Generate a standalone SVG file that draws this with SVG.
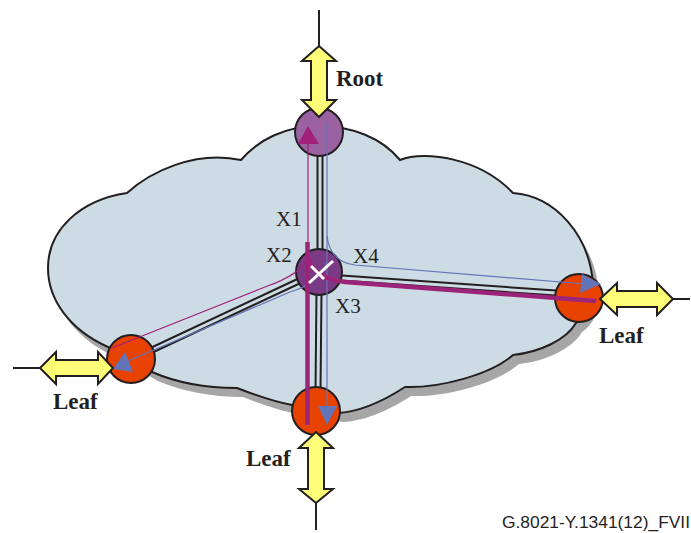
<svg xmlns="http://www.w3.org/2000/svg" width="691" height="533" viewBox="0 0 691 533">
<defs>
<style>
.cloud{stroke:#231f20;stroke-width:2;stroke-linejoin:miter}
.linkO{stroke:#231f20;stroke-width:7;fill:none}
.linkI{stroke:#cddbe4;stroke-width:3;fill:none}
.node{stroke:#231f20;stroke-width:2}
.leaf{fill:#e84200}
.arrow{fill:#fdfd78;stroke:#231f20;stroke-width:2;stroke-linejoin:miter}
.wire{stroke:#231f20;stroke-width:2;fill:none}
.blue{stroke:#6474b8;stroke-width:1.2;fill:none}
.mag{stroke:#a0207a;stroke-width:1.2;fill:none}
.magT{stroke:#9c2478;stroke-width:4.5;fill:none}
.tri{fill:#6474b8}
.lbl{font-family:"Liberation Serif",serif;font-weight:bold;font-size:23px;fill:#231f20}
.xl{font-family:"Liberation Serif",serif;font-size:21px;fill:#231f20}
</style>
<path id="cloudPath" d="M 241,160 C 258,140 285,126 319,126 C 352,126 382,138 400,160 C 425,150 480,158 513,193 C 555,196 590,235 593,285 C 594,300 588,315 576,323 C 566,340 540,352 513,355 C 490,375 440,388 405,387 C 385,400 360,412 337,413 L 292,405 C 275,402 255,395 237,388 C 205,388 175,382 152,372 L 108,347 C 70,330 48,300 48,268 C 48,230 80,200 127,193 C 150,172 195,150 241,160 Z"/>
</defs>
<g id="cloud">
<use href="#cloudPath" transform="translate(6,9)" fill="#a6a6a6"/>
<use href="#cloudPath" class="cloud" fill="#cddbe4"/>
</g>
<g id="connectors">
<line class="linkO" x1="320" y1="156" x2="320" y2="250"/>
<line class="linkI" x1="320" y1="156" x2="320" y2="250"/>
<line class="linkO" x1="299" y1="281" x2="152" y2="350"/>
<line class="linkI" x1="299" y1="281" x2="152" y2="350"/>
<line class="linkO" x1="319" y1="292" x2="318" y2="390"/>
<line class="linkI" x1="319" y1="292" x2="318" y2="390"/>
<line class="linkO" x1="342" y1="278" x2="556" y2="293"/>
<line class="linkI" x1="342" y1="278" x2="556" y2="293"/>
<line class="wire" x1="319" y1="10" x2="319" y2="46"/>
<line class="wire" x1="316" y1="503" x2="316" y2="530"/>
<line class="wire" x1="673" y1="299" x2="690" y2="299"/>
<line class="wire" x1="13" y1="368" x2="40" y2="368"/>
</g>
<g id="root">
<circle class="node" cx="319" cy="132" r="24" fill="#9a62a0"/>
</g>
<g id="center">
<circle class="node" cx="319" cy="272" r="23" fill="#7b3a86"/>
</g>
<g id="leaf-right">
<circle class="node leaf" cx="579" cy="298" r="24"/>
</g>
<g id="leaf-left">
<circle class="node leaf" cx="131" cy="359" r="24"/>
</g>
<g id="leaf-bottom">
<circle class="node leaf" cx="316" cy="411" r="24"/>
</g>
<g id="paths">
<line class="mag" x1="308" y1="140" x2="308" y2="244"/>
<path class="mag" d="M 307,258 Q 302,274 265,287 L 112,348"/>
<line class="blue" x1="327" y1="122" x2="327" y2="410"/>
<path class="blue" d="M 327,236 Q 330,262 355,265 L 585,284"/>
<path class="blue" d="M 327,262 Q 318,284 290,292 L 128,361"/>
<line class="magT" x1="307.5" y1="242" x2="307.5" y2="425"/>
<path class="magT" d="M 309,258 Q 312,278 345,282 L 596,301"/>
<polygon class="tri" points="308,126 298,144 319,144" fill="#a0207a" style="fill:#a0207a"/>
<polygon class="tri" points="582,274 601,284 580,293"/>
<polygon class="tri" points="318,406 337,406 327,425"/>
<polygon class="tri" points="125,352 113,369 133,372"/>
<line x1="333" y1="261" x2="309" y2="283" stroke="#fff" stroke-width="3"/>
<line x1="311" y1="266" x2="324" y2="279" stroke="#fff" stroke-width="3"/>
</g>
<g id="arrows">
<polygon class="arrow" points="319,46 336,61 327,61 327,100 336,100 319,117 302,100 311,100 311,61 302,61"/>
<polygon class="arrow" points="316,432 333,448 324,448 324,489 333,489 316,503 299,489 308,489 308,448 299,448"/>
<polygon class="arrow" points="600,299 617,283 617,291 657,291 657,283 673,299 657,315 657,307 617,307 617,315"/>
<polygon class="arrow" points="40,368 56,352 56,360 98,360 98,352 113,368 98,384 98,376 56,376 56,384"/>
</g>
<g id="labels">
<text class="lbl" x="336" y="86">Root</text>
<text class="lbl" x="599" y="343">Leaf</text>
<text class="lbl" x="53" y="409">Leaf</text>
<text class="lbl" x="246" y="466">Leaf</text>
<text class="xl" x="276" y="226">X1</text>
<text class="xl" x="266" y="262">X2</text>
<text class="xl" x="335" y="313">X3</text>
<text class="xl" x="353" y="263">X4</text>
<text x="502" y="528" font-family="'Liberation Sans',Arial,sans-serif" font-size="16" fill="#231f20" textLength="188" lengthAdjust="spacingAndGlyphs">G.8021-Y.1341(12)_FVII</text>
</g>
</svg>
